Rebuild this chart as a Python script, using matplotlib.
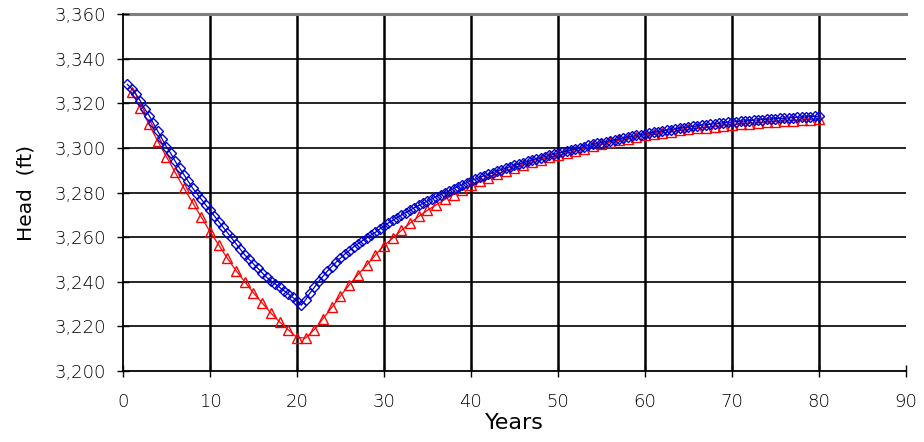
import matplotlib
matplotlib.use("Agg")
import matplotlib.pyplot as plt
from matplotlib.ticker import FuncFormatter

# Simulated head (ft) vs. time (years)
years_blue = [0.5 * i for i in range(1, 161)]
head_blue = [
    # 0.5 - 20.5
    3328.5, 3326.5, 3324.0, 3321.0, 3317.5, 3314.5, 3311.0, 3307.5, 3304.0, 3300.5,
    3297.5, 3294.0, 3291.0, 3288.0, 3285.0, 3282.0, 3279.5, 3277.0, 3274.5, 3272.0,
    3269.5, 3267.0, 3264.5, 3262.0, 3259.5, 3257.0, 3254.5, 3252.0, 3250.0, 3248.0,
    3246.0, 3244.0, 3242.0, 3240.5, 3239.0, 3237.5, 3236.0, 3234.5, 3233.0, 3231.5,
    3229.5,
    # 21 - 30
    3232.0, 3235.0, 3237.5, 3240.2, 3242.5, 3244.8, 3246.8, 3248.8, 3250.6, 3252.4,
    3254.0, 3255.6, 3257.0, 3258.4, 3259.6, 3260.9, 3262.1, 3263.6, 3265.0,
    # 30.5 - 40
    3266.3, 3267.5, 3268.7, 3269.9, 3271.0, 3272.1, 3273.2, 3274.2, 3275.2, 3276.2,
    3277.2, 3278.1, 3279.0, 3279.9, 3280.8, 3281.7, 3282.6, 3283.5, 3284.4, 3285.3,
    # 40.5 - 50
    3286.0, 3286.8, 3287.5, 3288.2, 3288.9, 3289.6, 3290.3, 3290.9, 3291.6, 3292.2,
    3292.8, 3293.4, 3294.0, 3294.5, 3295.1, 3295.6, 3296.1, 3296.6, 3297.1, 3297.6,
    # 50.5 - 60
    3298.1, 3298.6, 3299.1, 3299.6, 3300.1, 3300.6, 3301.1, 3301.6, 3302.0, 3302.4,
    3302.8, 3303.2, 3303.6, 3304.0, 3304.4, 3304.8, 3305.2, 3305.6, 3306.0, 3306.4,
    # 60.5 - 70
    3306.7, 3307.0, 3307.3, 3307.6, 3307.9, 3308.2, 3308.5, 3308.8, 3309.1, 3309.4,
    3309.6, 3309.9, 3310.1, 3310.4, 3310.6, 3310.8, 3311.0, 3311.2, 3311.4, 3311.6,
    # 70.5 - 80
    3311.8, 3311.9, 3312.1, 3312.2, 3312.4, 3312.5, 3312.7, 3312.8, 3313.0, 3313.1,
    3313.2, 3313.3, 3313.4, 3313.6, 3313.7, 3313.8, 3313.9, 3314.0, 3314.1, 3314.2,
]

years_red = list(range(1, 81))
head_red = [
    3325.0, 3318.0, 3310.5, 3303.0, 3296.0, 3289.0, 3282.0, 3275.5, 3269.0, 3262.5,
    3256.5, 3250.5, 3245.0, 3240.0, 3235.0, 3230.5, 3226.0, 3222.0, 3218.5, 3215.0,
    3214.8, 3218.6, 3223.5, 3228.5, 3233.7, 3238.6, 3243.2, 3247.4, 3252.0, 3256.2,
    3259.6, 3263.0, 3266.3, 3269.3, 3272.0, 3274.5, 3276.9, 3279.1, 3281.2, 3283.2,
    3285.0, 3286.7, 3288.3, 3289.8, 3291.2, 3292.5, 3293.7, 3294.7, 3295.7, 3296.7,
    3297.7, 3298.7, 3299.7, 3300.7, 3301.7, 3302.6, 3303.4, 3304.2, 3305.0, 3305.7,
    3306.3, 3306.8, 3307.3, 3307.8, 3308.3, 3308.7, 3309.1, 3309.5, 3309.9, 3310.3,
    3310.6, 3310.9, 3311.2, 3311.5, 3311.8, 3312.0, 3312.2, 3312.4, 3312.6, 3312.8,
]

x_ticks = list(range(0, 91, 10))
y_ticks = list(range(3200, 3361, 20))

plt.rcParams['font.family'] = ['DejaVu Sans']
plt.rcParams['font.weight'] = 200

fig = plt.figure(figsize=(9.24, 4.42), dpi=100)
ax = fig.add_axes([0.1331, 0.1606, 0.8474, 0.8077])

ax.set_xlim(0, 90)
ax.set_ylim(3200, 3360)
ax.set_xticks(x_ticks)
ax.set_yticks(y_ticks)
ax.yaxis.set_major_formatter(FuncFormatter(lambda v, p: f"{int(v):,}"))

# grid: thick black verticals, thinner black horizontals, gray top line
for xv in x_ticks[1:-1]:
    ax.axvline(xv, color='black', lw=1.8, zorder=1)
for yv in y_ticks[1:-1]:
    ax.axhline(yv, color='black', lw=1.2, zorder=1)
ax.axhline(3360, color='#808080', lw=2.2, zorder=1, clip_on=False)

ax.plot(years_red, head_red, color='red', lw=0.9, marker='^', ms=7.5,
        mfc='none', mec='red', mew=1.0, zorder=3)
ax.plot(years_blue, head_blue, color='#0000cc', lw=0.9, marker='D', ms=4.6,
        mfc='none', mec='#0000cc', mew=1.0, zorder=4)

for s in ['top', 'right']:
    ax.spines[s].set_visible(False)
ax.spines['left'].set_linewidth(1.3)
ax.spines['bottom'].set_linewidth(1.3)
ax.tick_params(direction='inout', length=8, width=1.0, labelsize=13,
               colors='black')
ax.tick_params(axis='y', pad=8)
ax.tick_params(axis='x', pad=12)

ax.set_xlabel('Years', fontsize=16, labelpad=1)
ax.set_ylabel('Head  (ft)', fontsize=14.5, labelpad=14)

fig.savefig('out.png', dpi=100)
